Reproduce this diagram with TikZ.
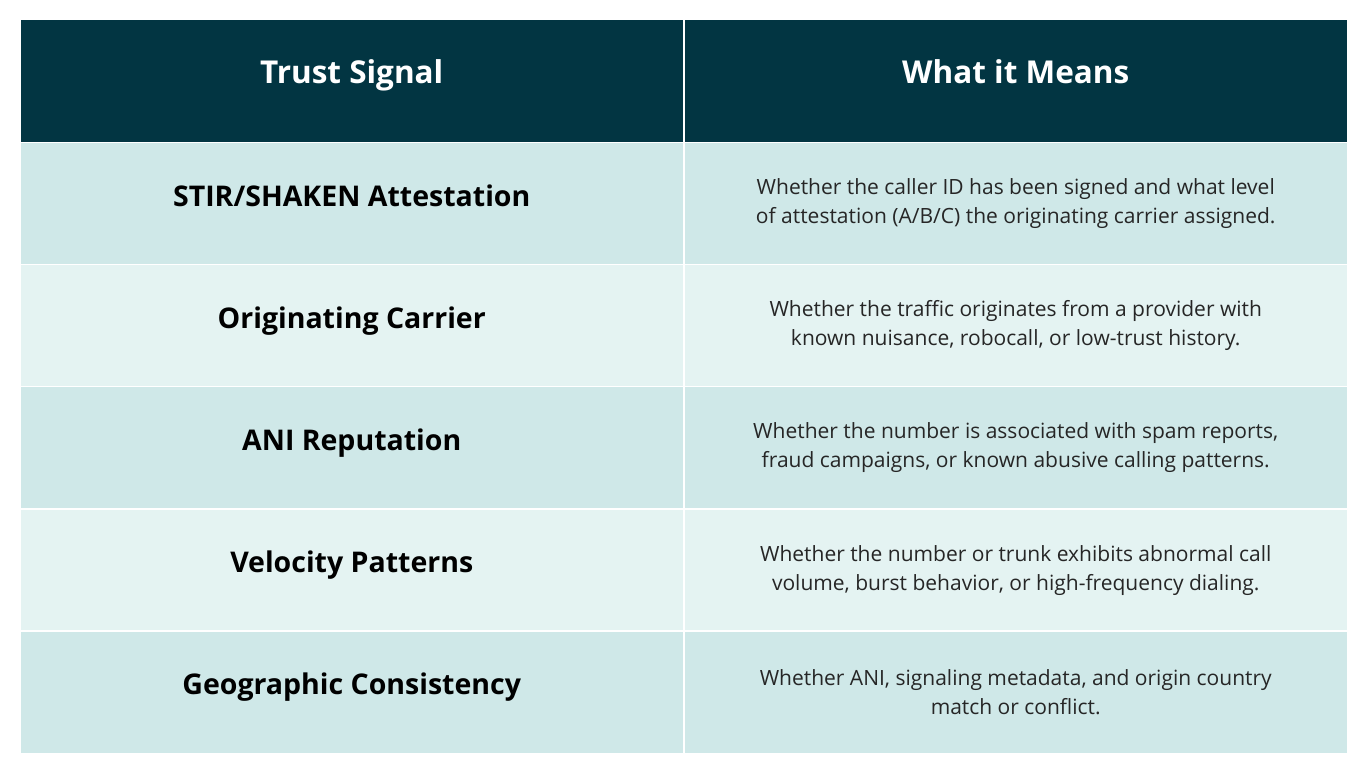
\documentclass[tikz,border=0pt]{standalone}
\usepackage{fontspec}
\setmainfont{Open Sans}
\definecolor{headbg}{HTML}{023542}
\definecolor{rowdark}{HTML}{CFE8E8}
\definecolor{rowlight}{HTML}{E4F3F2}
\tikzset{
  cell/.style={draw=white, line width=1.5pt, minimum width=664pt, minimum height=122.5pt, anchor=north west, inner sep=0pt},
  headtext/.style={font=\bfseries\fontsize{31.5}{36}\selectfont, text=white, text height=0.72em, text depth=0.22em},
  signaltext/.style={font=\bfseries\fontsize{28.5}{32}\selectfont, text=black, text height=0.72em, text depth=0.22em},
  meantext/.style={font=\fontsize{21}{29}\selectfont, text=black!85, align=center}
}
\begin{document}
\begin{tikzpicture}[x=1pt,y=-1pt]
        \useasboundingbox[fill=white] (0,0) rectangle (1366,768);

        % header
        \node[cell, fill=headbg] (hleft) at (19,19) {};
        \node[cell, fill=headbg] (hright) at (683,19) {};
        \node[headtext] at (hleft.center) {Trust Signal};
        \node[headtext] at (hright.center) {What it Means};

        % rows
        \foreach \i/\sig/\mean [count=\n] in {
            0/{STIR/SHAKEN Attestation}/{Whether the caller ID has been signed and what level\\of attestation (A/B/C) the originating carrier assigned.},
            1/{Originating Carrier}/{Whether the traffic originates from a provider with\\known nuisance, robocall, or low-trust history.},
            0/{ANI Reputation}/{Whether the number is associated with spam reports,\\fraud campaigns, or known abusive calling patterns.},
            1/{Velocity Patterns}/{Whether the number or trunk exhibits abnormal call\\volume, burst behavior, or high-frequency dialing.},
            0/{Geographic Consistency}/{Whether ANI, signaling metadata, and origin country\\match or conflict.}} {
          \ifnum\i=0 \def\rowfill{rowdark}\else \def\rowfill{rowlight}\fi
          \node[cell, fill=\rowfill] (sig\n) at (19,{141.5+122.2*(\n-1)}) {};
          \node[cell, fill=\rowfill] (mean\n) at (683,{141.5+122.2*(\n-1)}) {};
          \node[signaltext] at (sig\n.center) {\sig};
          \node[meantext] at (mean\n.center) {\mean};
        }
\end{tikzpicture}
\end{document}
